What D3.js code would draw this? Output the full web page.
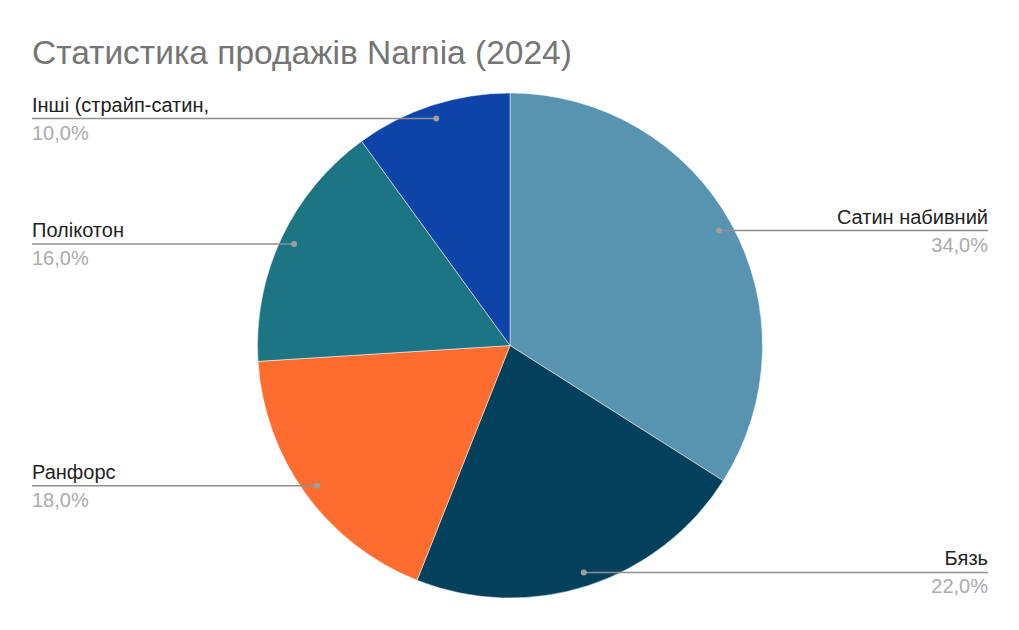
<!DOCTYPE html>
<html>
<head>
<meta charset="utf-8">
<script src="https://cdn.jsdelivr.net/npm/d3@7"></script>
<style>
  body { margin: 0; background: #fff; }
  text { font-family: "Liberation Sans", Arial, sans-serif; }
</style>
</head>
<body>
<div id="chart"></div>
<script>
var svgWidth = 1019;
var svgHeight = 630;

// data
var categories = ["Сатин набивний", "Бязь", "Ранфорс", "Полікотон", "Інші (страйп-сатин,"];
var shares = [34, 22, 18, 16, 10];
var pctLabels = ["34,0%", "22,0%", "18,0%", "16,0%", "10,0%"];
var sliceColors = ["#5893b0", "#03405c", "#ff6c2f", "#1d7482", "#0e43a8"];

var cx = 510, cy = 345.5, radius = 252.5;

var svg = d3.select("#chart")
  .append("svg")
  .attr("width", svgWidth)
  .attr("height", svgHeight);

svg.append("rect")
  .attr("width", svgWidth)
  .attr("height", svgHeight)
  .attr("fill", "#ffffff");

// title
svg.append("text")
  .attr("x", 32)
  .attr("y", 64)
  .attr("font-size", "33.5px")
  .attr("fill", "#757575")
  .text("Статистика продажів Narnia (2024)");

var pie = d3.pie().sort(null).value(d => d);
var arcs = pie(shares);

var arc = d3.arc().innerRadius(0).outerRadius(radius);
var dotArc = d3.arc().innerRadius(radius * 0.945).outerRadius(radius * 0.945);

var pieGroup = svg.append("g")
  .attr("transform", `translate(${cx}, ${cy})`);

pieGroup.selectAll("path")
  .data(arcs)
  .enter()
  .append("path")
  .attr("d", arc)
  .attr("fill", (d, i) => sliceColors[i])
  .attr("stroke", "#ffffff")
  .attr("stroke-width", 0.5);

// leader lines + labels
var labelGroup = svg.append("g");

arcs.forEach(function(d, i) {
  var p = dotArc.centroid(d);
  var px = cx + p[0], py = cy + p[1];
  var mid = (d.startAngle + d.endAngle) / 2;
  var right = mid < Math.PI;
  var edgeX = right ? 988 : 32;
  var lineY = py;

  labelGroup.append("line")
    .attr("x1", px)
    .attr("y1", py)
    .attr("x2", edgeX)
    .attr("y2", lineY)
    .attr("stroke", "#8f8f8f")
    .attr("stroke-width", 1.5);

  labelGroup.append("circle")
    .attr("cx", px)
    .attr("cy", py)
    .attr("r", 3)
    .attr("fill", "#9e9e9e");

  labelGroup.append("text")
    .attr("x", edgeX)
    .attr("y", lineY - 7)
    .attr("text-anchor", right ? "end" : "start")
    .attr("font-size", "20px")
    .attr("fill", "#222222")
    .text(categories[i]);

  labelGroup.append("text")
    .attr("x", edgeX)
    .attr("y", lineY + 21)
    .attr("text-anchor", right ? "end" : "start")
    .attr("font-size", "20px")
    .attr("fill", "#ababab")
    .text(pctLabels[i]);
});
</script>
</body>
</html>
